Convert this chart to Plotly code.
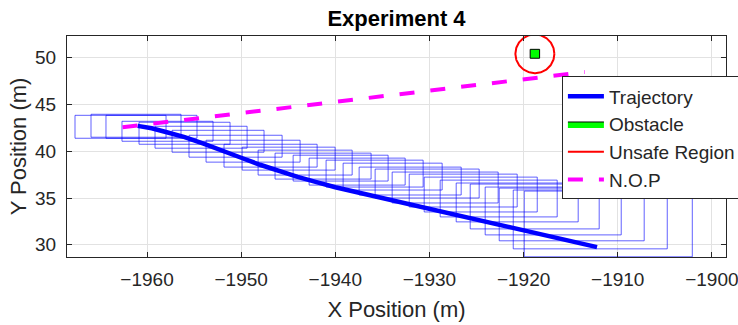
import numpy as np
import plotly.graph_objects as go

# ---------------- data ----------------
traj_x = [-1961.0, -1959.5, -1958.0, -1956.0, -1954.0, -1952.0, -1950.0, -1948.0, -1946.0, -1944.0,
          -1942.0, -1940.0, -1937.0, -1934.0, -1930.0, -1926.0, -1922.0, -1918.0, -1915.0, -1912.2]
traj_y = [42.7, 42.45, 42.05, 41.5, 40.8, 40.0, 39.3, 38.55, 37.85, 37.25,
          36.7, 36.15, 35.45, 34.75, 33.85, 32.95, 32.05, 31.1, 30.4, 29.75]

box_left = [-1967.65, -1965.95, -1964.36, -1962.66, -1960.85, -1959.15, -1957.34, -1955.54,
            -1953.73, -1951.82, -1949.90, -1948.20, -1946.40, -1944.48, -1942.78, -1940.98,
            -1939.17, -1937.47, -1935.77, -1933.96, -1932.15, -1930.56, -1928.86, -1927.16,
            -1925.67, -1924.08, -1922.59, -1921.10, -1919.93]
box_right = [-1957.98, -1956.39, -1954.69, -1952.99, -1951.18, -1949.37, -1947.57, -1945.65,
             -1943.74, -1941.93, -1940.02, -1938.21, -1936.20, -1934.39, -1932.58, -1930.67,
             -1928.65, -1926.63, -1924.72, -1922.70, -1920.68, -1918.55, -1916.43, -1914.20,
             -1911.97, -1909.63, -1907.19, -1904.74, -1902.08]
box_top = [43.83, 43.94, 43.83, 43.19, 43.09, 42.66, 42.23, 41.70, 41.17, 40.74, 40.43, 40.11,
           39.79, 39.57, 39.26, 39.04, 38.72, 38.30, 38.09, 37.77, 37.55, 37.23, 36.91, 36.60,
           36.49, 36.17, 36.06, 35.85, 35.74]
box_bottom = [41.38, 41.49, 41.38, 41.06, 40.74, 40.32, 39.89, 39.36, 38.83, 38.30, 37.98, 37.45,
              37.02, 36.81, 36.38, 36.17, 35.85, 35.32, 35.00, 34.47, 34.04, 33.51, 32.98, 32.45,
              31.70, 31.06, 30.43, 29.57, 28.72]

nop_x = [-1962.6, -1913.5]
nop_y = [42.55, 48.45]

obstacle_center = (-1918.8, 50.4)
obstacle_size = (1.0, 0.95)
unsafe_radius = 2.07

x_ticks = [-1960, -1950, -1940, -1930, -1920, -1910, -1900]
y_ticks = [30, 35, 40, 45, 50]

# ---------------- figure ----------------
fig = go.Figure()

bx, by = [], []
for l, r, t, b in zip(box_left, box_right, box_top, box_bottom):
    bx += [l, r, r, l, l, None]
    by += [b, b, t, t, b, None]
fig.add_trace(go.Scatter(x=bx, y=by, mode="lines",
                         line=dict(color="rgba(0,0,255,0.62)", width=1),
                         showlegend=False, hoverinfo="skip"))

fig.add_trace(go.Scatter(x=traj_x, y=traj_y, mode="lines", name="Trajectory",
                         line=dict(color="#0000ff", width=4.5)))

cx, cy = obstacle_center
w, h = obstacle_size
fig.add_trace(go.Scatter(x=[cx - w / 2, cx + w / 2, cx + w / 2, cx - w / 2, cx - w / 2],
                         y=[cy - h / 2, cy - h / 2, cy + h / 2, cy + h / 2, cy - h / 2],
                         mode="lines", fill="toself", fillcolor="#00ff00",
                         line=dict(color="#000000", width=1), name="Obstacle"))

th = np.linspace(0, 2 * np.pi, 200)
fig.add_trace(go.Scatter(x=cx + unsafe_radius * np.cos(th), y=cy + unsafe_radius * np.sin(th),
                         mode="lines", line=dict(color="#ff0000", width=2),
                         name="Unsafe Region"))

fig.add_trace(go.Scatter(x=nop_x, y=nop_y, mode="lines", name="N.O.P",
                         line=dict(color="#ff00ff", width=4, dash="15px,16px")))

axis_common = dict(showgrid=True, gridcolor="#e2e2e2", gridwidth=1, zeroline=False,
                   showline=True, linecolor="#262626", linewidth=1, mirror="ticks",
                   ticks="inside", ticklen=5, tickcolor="#262626", automargin=False,
                   ticklabeloverflow="allow",
                   tickfont=dict(family="Liberation Sans, Arial", size=19, color="#262626"))

fig.update_layout(
    width=738, height=325,
    margin=dict(l=67, r=12, t=36, b=68, autoexpand=False),
    paper_bgcolor="white", plot_bgcolor="white",
    font=dict(family="Liberation Sans, Arial", color="#262626"),
    title=dict(text="<b>Experiment 4</b>", x=0.5, xref="paper", xanchor="center",
               y=1 - 18 / 325, yref="container", yanchor="middle",
               font=dict(size=22, color="#000000")),
    xaxis=dict(range=[-1968.5, -1898.5], tickvals=x_ticks,
               title=dict(text="X Position (m)", font=dict(size=22, color="#262626"), standoff=12),
               ticklabelstandoff=5, **axis_common),
    yaxis=dict(range=[28.7, 52.3], tickvals=y_ticks,
               title=dict(text="Y Position (m)", font=dict(size=22, color="#262626"), standoff=2),
               ticklabelstandoff=6, **axis_common),
    legend=dict(x=0.751, y=0.817, xanchor="left", yanchor="top",
                bordercolor="#262626", borderwidth=1, bgcolor="white",
                font=dict(size=19, color="#262626"), itemwidth=36, tracegroupgap=0),
    showlegend=True,
)

fig.write_html("out.html", config={"displayModeBar": False},
               post_script="document.body.style.margin='0';document.body.style.overflow='hidden';")
